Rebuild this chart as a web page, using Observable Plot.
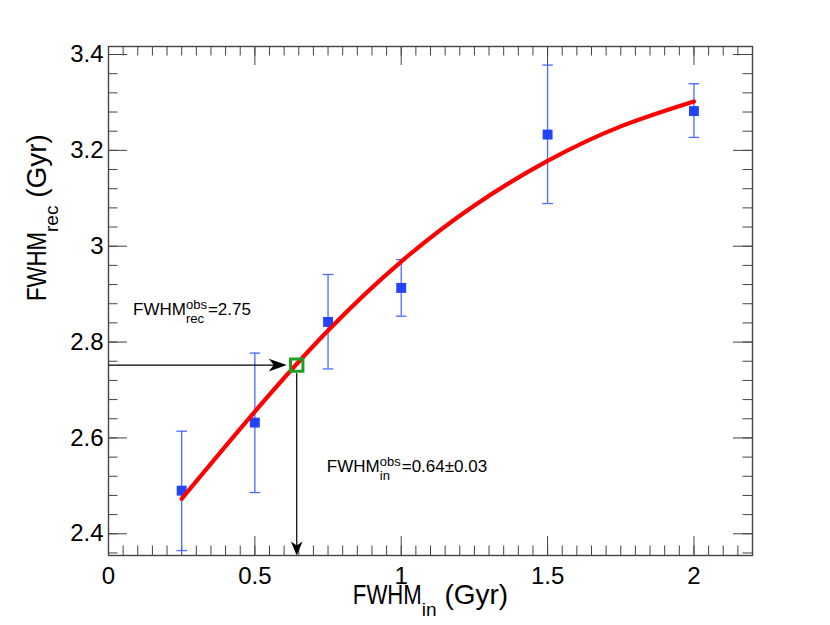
<!DOCTYPE html>
<html><head><meta charset="utf-8">
<script src="https://cdn.jsdelivr.net/npm/d3@7"></script>
<script src="https://cdn.jsdelivr.net/npm/@observablehq/plot@0.6"></script>
<style>body{margin:0;background:#fff;} svg{display:block}</style>
</head><body>
<script>
// ---- data ----
const xIn    = [0.25, 0.5, 0.75, 1.0, 1.5, 2.0];
const yRec   = [2.490, 2.632, 2.842, 2.913, 3.233, 3.282];
const yErrLo = [2.365, 2.486, 2.744, 2.854, 3.089, 3.227];
const yErrHi = [2.614, 2.777, 2.941, 2.972, 3.378, 3.339];

const xFit = [0.25, 0.5, 0.75, 1.0, 1.25, 1.5, 1.75, 2.0];
const yFit = [2.473, 2.655, 2.824, 2.968, 3.085, 3.178, 3.250, 3.302];

const obsIn = 0.643, obsRec = 2.752;

const xMajor = [0, 0.5, 1, 1.5, 2];
const xTickLabels = ["0", "0.5", "1", "1.5", "2"];
const yMajor = [2.4, 2.6, 2.8, 3.0, 3.2, 3.4];
const yTickLabels = ["2.4", "2.6", "2.8", "3", "3.2", "3.4"];
const xMinor = d3.range(0, 2.21, 0.05);
const yMinor = d3.range(2.36, 3.42, 0.04);

const xTitle = "FWHM||in| (Gyr)";
const yTitle = "FWHM||rec| (Gyr)";
const annX = [0.084, 0.746];
const annY = [2.856, 2.529];
const annText = ["FWHM|obs|rec|=2.75", "FWHM|obs|in|=0.64\u00b10.03"];

const xDomain = [0, 2.2], yDomain = [2.3547, 3.4167];

// ---- layout / style ----
const W = 830, H = 625, mL = 108, mR = 78, mT = 46, mB = 70;
const innerW = W - mL - mR, innerH = H - mT - mB;
const ptColor = "#2244ff", errColor = "#4d6bff", fitColor = "#ff0000", boxColor = "#1f9f1f";
const tickColor = "#444", frameColor = "#444";

const points = xIn.map((x, i) => ({x, y: yRec[i], lo: yErrLo[i], hi: yErrHi[i]}));
const fit = xFit.map((x, i) => ({x, y: yFit[i]}));
const obs = [{in: obsIn, rec: obsRec}];
const anns = annX.map((x, i) => ({x, y: annY[i], text: annText[i]}));

const capSymbol = {draw(ctx) { ctx.moveTo(-5.3, 0); ctx.lineTo(5.3, 0); }};
const headH = {draw(ctx) { ctx.moveTo(0, 0); ctx.lineTo(-18, -6.3); ctx.lineTo(-13, 0); ctx.lineTo(-18, 6.3); ctx.closePath(); }};
const headV = {draw(ctx) { ctx.moveTo(0, 0); ctx.lineTo(-14, -5.8); ctx.lineTo(-10, 0); ctx.lineTo(-14, 5.8); ctx.closePath(); }};

const minorLen = 9.5, majorLen = 19;

const svg = Plot.plot({
  width: W, height: H,
  marginLeft: mL, marginRight: mR, marginTop: mT, marginBottom: mB,
  style: {fontFamily: "'Liberation Sans', Arial, Helvetica, sans-serif", background: "#fff", color: "#000"},
  x: {domain: xDomain, axis: null},
  y: {domain: yDomain, axis: null},
  marks: [
    // inward ticks on all four sides
    Plot.tickX(xMinor, {x: d => d, insetTop: innerH - minorLen, stroke: tickColor, strokeWidth: 1}),
    Plot.tickX(xMinor, {x: d => d, insetBottom: innerH - minorLen, stroke: tickColor, strokeWidth: 1}),
    Plot.tickX(xMajor, {x: d => d, insetTop: innerH - majorLen, stroke: tickColor, strokeWidth: 1}),
    Plot.tickX(xMajor, {x: d => d, insetBottom: innerH - majorLen, stroke: tickColor, strokeWidth: 1}),
    Plot.tickY(yMinor, {y: d => d, insetRight: innerW - minorLen, stroke: tickColor, strokeWidth: 1}),
    Plot.tickY(yMinor, {y: d => d, insetLeft: innerW - minorLen, stroke: tickColor, strokeWidth: 1}),
    Plot.tickY(yMajor, {y: d => d, insetRight: innerW - majorLen, stroke: tickColor, strokeWidth: 1}),
    Plot.tickY(yMajor, {y: d => d, insetLeft: innerW - majorLen, stroke: tickColor, strokeWidth: 1}),
    Plot.frame({stroke: frameColor, strokeWidth: 1.4}),
    // tick labels
    Plot.text(xMajor, {x: d => d, text: (d, i) => xTickLabels[i], frameAnchor: "bottom", lineAnchor: "top", dy: 11, fontSize: 24}),
    Plot.text(yMajor, {y: d => d, text: (d, i) => yTickLabels[i], frameAnchor: "left", textAnchor: "end", dx: -5, fontSize: 24}),
    // axis titles
    Plot.text([xTitle], {text: d => d, frameAnchor: "bottom", lineAnchor: "bottom", dy: 48, fontSize: 28}),
    Plot.text([yTitle], {text: d => d, frameAnchor: "left", lineAnchor: "bottom", rotate: -90, dx: -63, fontSize: 28}),
    // error bars
    Plot.ruleX(points, {x: "x", y1: "lo", y2: "hi", stroke: errColor, strokeWidth: 1.3}),
    Plot.dot(points, {x: "x", y: "lo", symbol: capSymbol, r: 5, fill: "none", stroke: errColor, strokeWidth: 1.3}),
    Plot.dot(points, {x: "x", y: "hi", symbol: capSymbol, r: 5, fill: "none", stroke: errColor, strokeWidth: 1.3}),
    Plot.dot(points, {x: "x", y: "y", symbol: "square", r: 5.6, fill: ptColor, stroke: "none"}),
    // fitted curve
    Plot.line(fit, {x: "x", y: "y", stroke: fitColor, strokeWidth: 4.2, curve: "natural"}),
    // arrows
    Plot.arrow(obs, {x1: () => xDomain[0], y1: "rec", x2: "in", y2: "rec", headLength: 0, insetEnd: 20, stroke: "#000", strokeWidth: 1.2}),
    Plot.arrow(obs, {x1: "in", y1: "rec", x2: "in", y2: () => yDomain[0], headLength: 0, insetStart: 8.5, insetEnd: 4, stroke: "#000", strokeWidth: 1.2}),
    Plot.dot(obs, {x: "in", y: "rec", symbol: headH, dx: -10, r: 5, fill: "#000", stroke: "none"}),
    Plot.dot(obs, {x: "in", y: () => yDomain[0], symbol: headV, rotate: 90, r: 5, fill: "#000", stroke: "none"}),
    Plot.dot(obs, {x: "in", y: "rec", symbol: "square", r: 7, fill: "none", stroke: boxColor, strokeWidth: 3}),
    // annotations
    Plot.text(anns, {x: "x", y: "y", text: "text", textAnchor: "start", lineAnchor: "bottom", fontSize: 17})
  ]
});
document.body.appendChild(svg);

// rich text: main|sup|sub|rest
const ns = "http://www.w3.org/2000/svg";
function richify(el, o) {
  const [main, sup, sub, rest] = el.textContent.split("|");
  while (el.firstChild) el.removeChild(el.firstChild);
  const mk = (s, attrs) => {
    const t = document.createElementNS(ns, "tspan");
    t.textContent = s;
    for (const k in attrs) t.setAttribute(k, attrs[k]);
    el.appendChild(t);
    return t;
  };
  const tMain = mk(main, {});
  if (o.mainLength) { tMain.setAttribute("textLength", o.mainLength); tMain.setAttribute("lengthAdjust", "spacingAndGlyphs"); }
  let cur = 0, wSup = 0, wSub = 0;
  if (sup) { const t = mk(sup, {"font-size": o.supSize, dy: o.supShift - cur}); cur = o.supShift; wSup = t.getComputedTextLength(); }
  if (sub) { const t = mk(sub, {"font-size": o.subSize, dy: o.subShift - cur, dx: -wSup}); cur = o.subShift; wSub = t.getComputedTextLength(); }
  if (rest) mk(rest, {dy: -cur, dx: Math.max(wSup, wSub) - wSub + (o.gap || 0)});
}
d3.select(svg).selectAll("text").each(function() {
  const s = this.textContent;
  if (!s.includes("|")) return;
  const parts = s.split("|");
  if (parts[1] === "") richify(this, {mainLength: 69, subSize: 19, subShift: 12});
  else richify(this, {supSize: 13, supShift: -6, subSize: 13, subShift: 8, gap: 1});
});
</script>
</body></html>
